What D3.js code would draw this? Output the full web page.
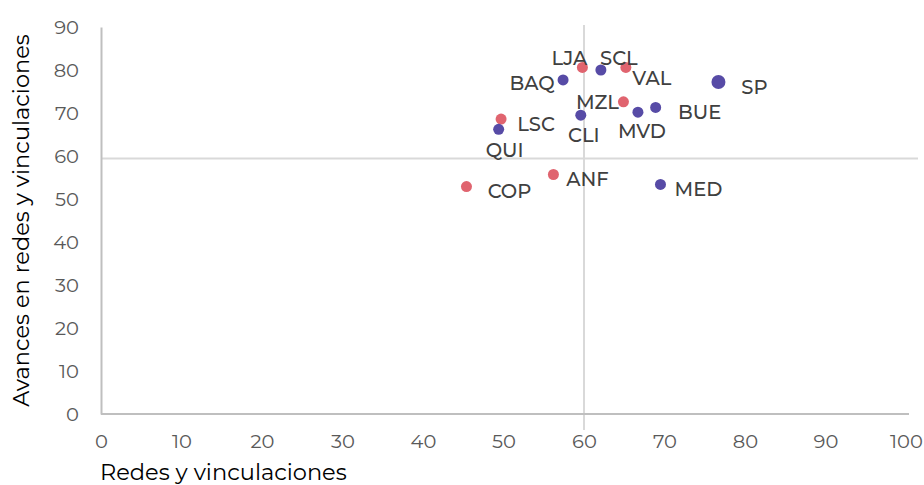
<!DOCTYPE html>
<html lang="es">
<head>
    <meta charset="UTF-8">
    <title>Redes y vinculaciones</title>
    <script src="https://cdn.jsdelivr.net/npm/d3@7"></script>
    <style>
        body { margin: 0; background: #fff; }
        text { font-family: Montserrat, "DejaVu Sans", sans-serif; }
    </style>
</head>
<body>
<script>

var width = 924,
    height = 485

// datos
var cities  = ["LJA", "SCL", "VAL", "BAQ", "SP", "MZL", "BUE", "MVD", "CLI", "LSC", "QUI", "COP", "ANF", "MED"]
var redes   = [59.8, 62.1, 65.2, 57.4, 76.7, 64.9, 68.9, 66.7, 59.6, 49.7, 49.4, 45.4, 56.2, 69.5]
var avances = [80.6, 80.0, 80.6, 77.7, 77.2, 72.6, 71.3, 70.2, 69.5, 68.6, 66.2, 52.9, 55.7, 53.4]
var group   = ["r", "b", "r", "b", "b", "r", "b", "b", "b", "r", "b", "r", "r", "b"]
var xTicks = [0, 10, 20, 30, 40, 50, 60, 70, 80, 90, 100]
var yTicks = [0, 10, 20, 30, 40, 50, 60, 70, 80, 90]
var refX = 60, refY = 59.4

// label placement (dx, dy from the point)
var labelOffset = {
  LJA: [-13, -9], SCL: [18, -12], VAL: [26, 11], BAQ: [-31, 3], SP: [36, 5],
  MZL: [-26, 0], BUE: [44, 5], MVD: [4, 19], CLI: [3, 20], LSC: [35, 5],
  QUI: [6, 21], COP: [43, 4], ANF: [34, 5], MED: [38, 5]
}

var colors = { r: "#E0646F", b: "#574BA6" }

var margin = { top: 27, right: 19, bottom: 71, left: 101 }
var x = d3.scaleLinear().domain([0, 100]).range([margin.left, 906])
var y = d3.scaleLinear().domain([0, 90]).range([height - margin.bottom, margin.top])

var svg = d3.select("body").append("svg")
    .attr("width", width)
    .attr("height", height)

// reference lines
svg.append("line")
    .attr("x1", x(refX)).attr("x2", x(refX))
    .attr("y1", y(90) - 2).attr("y2", y(0) + 16)
    .attr("stroke", "#D9D9D9").attr("stroke-width", 2)
svg.append("line")
    .attr("x1", x(0)).attr("x2", 918)
    .attr("y1", y(refY)).attr("y2", y(refY))
    .attr("stroke", "#D9D9D9").attr("stroke-width", 2)

// axes
var xAxis = d3.axisBottom(x).tickValues(xTicks).tickSize(0).tickPadding(20)
var yAxis = d3.axisLeft(y).tickValues(yTicks).tickSize(0).tickPadding(22)

var gx = svg.append("g").attr("transform", "translate(0," + y(0) + ")").call(xAxis)
var gy = svg.append("g").attr("transform", "translate(" + x(0) + ",0)").call(yAxis)

gx.select(".domain").attr("d", "M" + x(0) + ",0H909")
;[gx, gy].forEach(function(g) {
  g.select(".domain").attr("stroke", "#BFBFBF").attr("stroke-width", 2)
  g.selectAll("text")
    .attr("fill", "#595959")
    .style("font-size", "19.5px")
    .style("font-family", "Montserrat, 'DejaVu Sans', sans-serif")
})

// axis titles
svg.append("text")
    .attr("x", 100).attr("y", 480)
    .attr("fill", "#000")
    .style("font-size", "22.5px")
    .text("Redes y vinculaciones")

svg.append("text")
    .attr("transform", "translate(29," + ((y(0) + y(90)) / 2) + ") rotate(-90)")
    .attr("text-anchor", "middle")
    .attr("fill", "#000")
    .style("font-size", "22.5px")
    .text("Avances en redes y vinculaciones")

// points
var data = cities.map(function(c, i) {
  return { name: c, x: redes[i], y: avances[i], g: group[i] }
})

svg.selectAll("circle").data(data).enter()
    .append("circle")
    .attr("cx", function(d) { return x(d.x) })
    .attr("cy", function(d) { return y(d.y) })
    .attr("r", function(d) { return d.name == "SP" ? 7 : 5.5 })
    .attr("fill", function(d) { return colors[d.g] })

svg.selectAll(".lbl").data(data).enter()
    .append("text")
    .attr("class", "lbl")
    .attr("x", function(d) { return x(d.x) + labelOffset[d.name][0] })
    .attr("y", function(d) { return y(d.y) + labelOffset[d.name][1] })
    .attr("text-anchor", "middle")
    .attr("dominant-baseline", "central")
    .attr("fill", "#404040")
    .style("font-size", "19.5px")
    .style("font-weight", "500")
    .text(function(d) { return d.name })

</script>
</body>
</html>
